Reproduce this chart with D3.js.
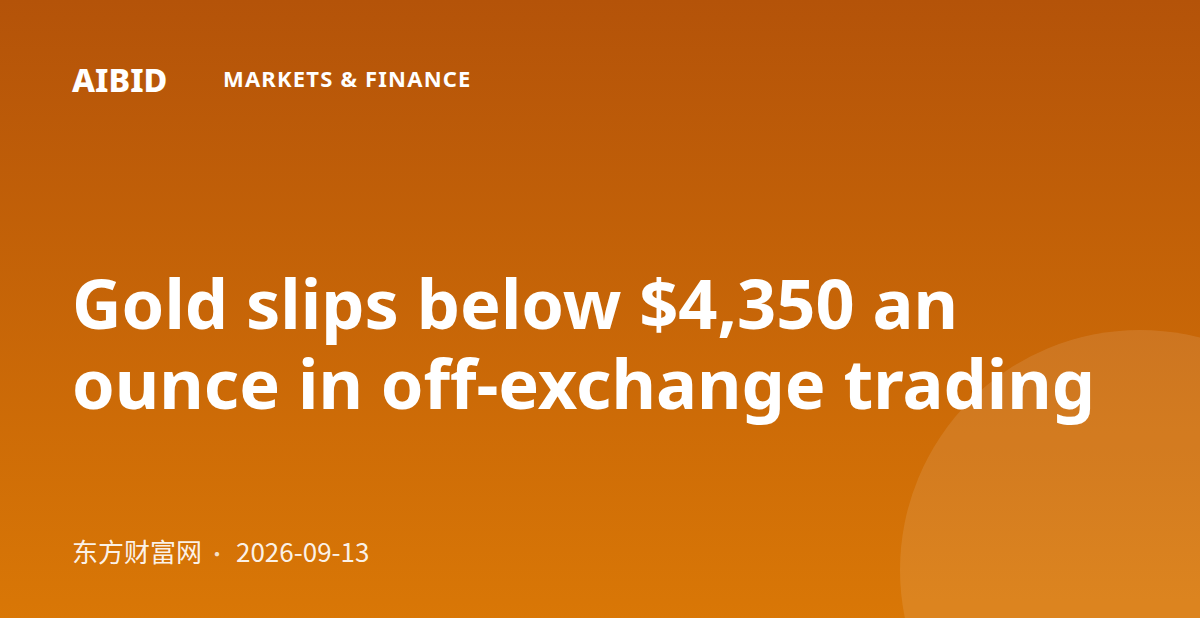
<!DOCTYPE html>
<html>
<head>
<meta charset="utf-8">
<script src="https://cdn.jsdelivr.net/npm/d3@7"></script>
<style>
  html, body { margin: 0; padding: 0; background: #fff; }
  svg { display: block; }
</style>
</head>
<body>
<div id="card"></div>
<script>
// card content
const brand = "AIBID";
const category = "MARKETS & FINANCE";
const titleLines = ["Gold slips below $4,350 an", "ounce in off-exchange trading"];
const source = "东方财富网";
const date = "2026-09-13";

// gradient stops (top -> bottom)
const bgStops = [[0, "#b45309"], [1, "#d97706"]];

const W = 1200, H = 618;

const svg = d3.select("#card")
  .append("svg")
  .attr("width", 1200)
  .attr("height", 630);

let defs = svg.append("defs");
let grad = defs.append("linearGradient")
  .attr("id", "bg")
  .attr("x1", 0).attr("y1", 0)
  .attr("x2", 0).attr("y2", 1);
grad.selectAll("stop")
  .data(bgStops)
  .enter()
  .append("stop")
  .attr("offset", (d) => d[0])
  .attr("stop-color", (d) => d[1]);

svg.append("rect")
  .attr("width", W)
  .attr("height", H)
  .attr("fill", "url(#bg)");

// decorative circle, clipped to the card
defs.append("clipPath").attr("id", "cardclip")
  .append("rect").attr("width", W).attr("height", H);

svg.append("circle")
  .attr("clip-path", "url(#cardclip)")
  .attr("cx", 1140)
  .attr("cy", 570)
  .attr("r", 240)
  .attr("fill", "#fff")
  .attr("fill-opacity", 0.1);

// header
svg.append("text")
  .attr("x", 72)
  .attr("y", 92)
  .attr("fill", "#fff")
  .style("font-family", "'Noto Sans', sans-serif")
  .style("font-weight", 800)
  .style("font-size", "32.5px")
  .text(brand);

svg.append("text")
  .attr("x", 223)
  .attr("y", 87)
  .attr("fill", "#fff")
  .style("font-family", "'Noto Sans', sans-serif")
  .style("font-weight", 700)
  .style("font-size", "22px")
  .style("letter-spacing", "1.2px")
  .text(category);

// headline (two lines, bounding boxes touch like the original)
svg.append("g")
  .selectAll("text")
  .data(titleLines)
  .enter()
  .append("text")
  .attr("x", 72)
  .attr("y", (d, i) => 329 + i * 80)
  .attr("fill", "#fff")
  .style("font-family", "'Noto Sans', sans-serif")
  .style("font-weight", 700)
  .style("font-size", "68.5px")
  .text((d) => d);

// footer: source · date
let foot = svg.append("text")
  .attr("y", 562)
  .attr("fill", "#fff")
  .attr("fill-opacity", 0.92)
  .style("font-family", "'Noto Sans CJK SC', 'Noto Sans', sans-serif")
  .style("font-size", "26px");
foot.append("tspan").attr("x", 72).text(source);
foot.append("tspan").attr("x", 217).attr("text-anchor", "middle")
  .attr("fill-opacity", 0.8).style("font-size", "20px").text("·");
foot.append("tspan").attr("x", 236).text(date);
</script>
</body>
</html>
